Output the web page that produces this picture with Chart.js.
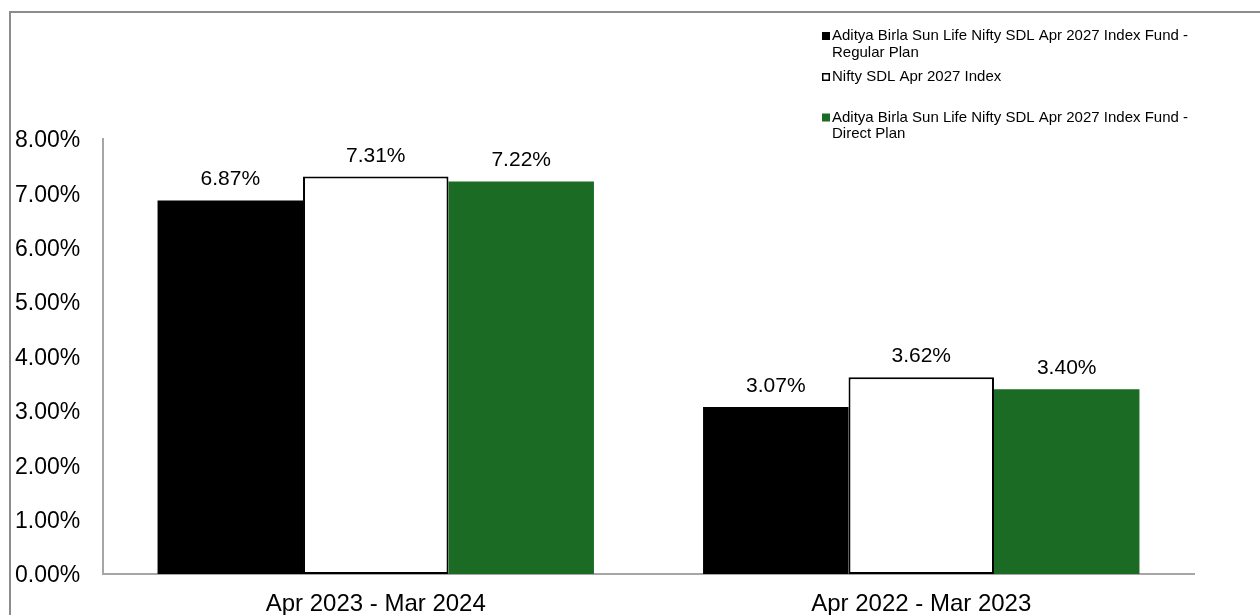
<!DOCTYPE html>
<html>
<head>
<meta charset="utf-8">
<script src="https://cdn.jsdelivr.net/npm/chart.js@4/dist/chart.umd.min.js"></script>
<style>
  html, body { margin: 0; padding: 0; background: #fff; }
  #wrap { position: relative; width: 1260px; height: 615px; }
</style>
</head>
<body>
<div id="wrap"><canvas id="returnsChart" width="1260" height="615"></canvas></div>
<script>
const periods = ['Apr 2023 - Mar 2024', 'Apr 2022 - Mar 2023'];
const seriesNames = [
  'Aditya Birla Sun Life Nifty SDL Apr 2027 Index Fund - Regular Plan',
  'Nifty SDL Apr 2027 Index',
  'Aditya Birla Sun Life Nifty SDL Apr 2027 Index Fund - Direct Plan'
];
const regularPlan = [6.87, 3.07];
const niftyIndex = [7.31, 3.62];
const directPlan = [7.22, 3.40];
const yTicks = [0, 1, 2, 3, 4, 5, 6, 7, 8];

const FONT = "'Liberation Sans', Arial, sans-serif";

// frame line on the left and top edge
const framePlugin = {
  id: 'frame',
  beforeDraw(chart) {
    const ctx = chart.ctx;
    ctx.save();
    ctx.strokeStyle = '#8c8c8c';
    ctx.lineWidth = 2;
    ctx.beginPath();
    ctx.moveTo(10, 615);
    ctx.lineTo(10, 12);
    ctx.lineTo(1260, 12);
    ctx.stroke();
    ctx.restore();
  }
};

// value labels above bars
const valueLabels = {
  id: 'valueLabels',
  afterDatasetsDraw(chart) {
    const ctx = chart.ctx;
    ctx.save();
    ctx.font = '21px ' + FONT;
    ctx.fillStyle = '#000';
    ctx.textAlign = 'center';
    ctx.textBaseline = 'alphabetic';
    chart.data.datasets.forEach((ds, i) => {
      chart.getDatasetMeta(i).data.forEach((bar, j) => {
        ctx.fillText(ds.data[j].toFixed(2) + '%', bar.x, bar.y - 15);
      });
    });
    ctx.restore();
  }
};

// legend with wrapped labels, top right
const sideLegend = {
  id: 'sideLegend',
  afterDraw(chart) {
    const ctx = chart.ctx;
    const x = 822, textX = 832, maxW = 372, lineH = 16.5;
    const tops = [36, 77, 117.5];
    ctx.save();
    ctx.font = '15px ' + FONT;
    ctx.textBaseline = 'middle';
    ctx.textAlign = 'left';
    chart.data.datasets.forEach((ds, i) => {
      const y = tops[i];
      ctx.fillStyle = ds.backgroundColor;
      ctx.fillRect(x, y - 4, 8, 8);
      if (ds.borderWidth) {
        ctx.strokeStyle = ds.borderColor;
        ctx.lineWidth = 1.5;
        ctx.strokeRect(x + 0.75, y - 3.25, 6.5, 6.5);
      }
      const words = ds.label.split(' ');
      const lines = [];
      let cur = '';
      words.forEach(w => {
        const t = cur ? cur + ' ' + w : w;
        if (ctx.measureText(t).width > maxW && cur) { lines.push(cur); cur = w; }
        else cur = t;
      });
      lines.push(cur);
      ctx.fillStyle = '#000';
      lines.forEach((ln, k) => ctx.fillText(ln, textX, y + k * lineH));
    });
    ctx.restore();
  }
};

new Chart(document.getElementById('returnsChart').getContext('2d'), {
  type: 'bar',
  data: {
    labels: periods,
    datasets: [
      { label: seriesNames[0], data: regularPlan, backgroundColor: '#000000', borderWidth: 0 },
      { label: seriesNames[1], data: niftyIndex, backgroundColor: '#ffffff', borderColor: '#000000', borderWidth: 2, borderSkipped: false },
      { label: seriesNames[2], data: directPlan, backgroundColor: '#1b6b25', borderWidth: 0 }
    ]
  },
  options: {
    responsive: false,
    animation: false,
    devicePixelRatio: 1,
    layout: { padding: { top: 139, right: 66, left: 15, bottom: 0 } },
    datasets: { bar: { categoryPercentage: 0.8, barPercentage: 1.0 } },
    plugins: {
      legend: { display: false },
      title: { display: false },
      tooltip: { enabled: false }
    },
    scales: {
      x: {
        grid: { display: false, drawTicks: false },
        border: { display: true, color: '#a6a6a6', width: 2 },
        ticks: { color: '#000', font: { family: FONT, size: 24 }, padding: 16 },
        afterFit(scale) { scale.height = 41; }
      },
      y: {
        min: 0,
        max: 8,
        afterBuildTicks(scale) { scale.ticks = yTicks.map(v => ({ value: v })); },
        grid: { display: false, drawTicks: false },
        border: { display: true, color: '#a6a6a6', width: 2 },
        ticks: {
          color: '#000',
          crossAlign: 'far',
          labelOffset: 2,
          font: { family: FONT, size: 23 },
          callback: v => v.toFixed(2) + '%'
        },
        afterFit(scale) { scale.width = 88; }
      }
    }
  },
  plugins: [framePlugin, valueLabels, sideLegend]
});
</script>
</body>
</html>
